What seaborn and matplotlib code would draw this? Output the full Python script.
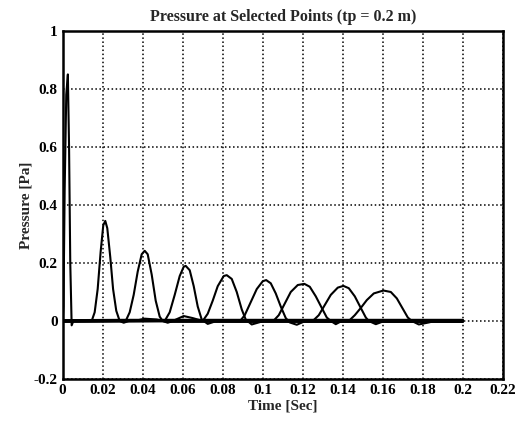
import numpy as np
import pandas as pd
import seaborn as sns
import matplotlib.pyplot as plt

# pressure time histories at the selected points
t1 = [0, 0.0004, 0.001, 0.0018, 0.0026, 0.0032, 0.0038, 0.0045, 0.0055, 0.03, 0.2]
p1 = [0, 0.05, 0.45, 0.78, 0.85, 0.6, 0.2, -0.015, 0.003, 0.004, 0.004]

t2 = [0, 0.0145, 0.016, 0.0175, 0.019, 0.0203, 0.0213, 0.0223, 0.0238, 0.0252, 0.0268, 0.0285, 0.0305,
      0.033, 0.036, 0.041, 0.047, 0.052, 0.2]
p2 = [0, 0, 0.03, 0.11, 0.24, 0.33, 0.345, 0.32, 0.22, 0.11, 0.035, 0, -0.006,
      0, 0, 0.008, 0.005, -0.003, -0.003]

t3 = [0, 0.0315, 0.0335, 0.0355, 0.0375, 0.0395, 0.041, 0.0425, 0.0445, 0.0465, 0.0485, 0.050, 0.0525,
      0.055, 0.0605, 0.065, 0.069, 0.2]
p3 = [-0.002, 0, 0.03, 0.09, 0.17, 0.23, 0.242, 0.23, 0.16, 0.07, 0.015, 0, -0.006,
      0, 0.017, 0.01, 0.002, 0.002]

t4 = [0, 0.051, 0.0535, 0.056, 0.0585, 0.0605, 0.0615, 0.0635, 0.0655, 0.0675, 0.0695, 0.0725, 0.076, 0.2]
p4 = [0.002, 0, 0.03, 0.09, 0.155, 0.187, 0.19, 0.175, 0.12, 0.05, 0.005, -0.01, -0.002, -0.002]

t5 = [0, 0.070, 0.0725, 0.075, 0.0775, 0.0805, 0.082, 0.0845, 0.087, 0.0895, 0.0915, 0.0945, 0.098, 0.101, 0.2]
p5 = [-0.003, 0, 0.025, 0.07, 0.12, 0.155, 0.158, 0.145, 0.1, 0.04, 0.005, -0.012, -0.005, 0.001, 0.001]

t6 = [0, 0.0887, 0.091, 0.094, 0.097, 0.1, 0.1017, 0.104, 0.1065, 0.109, 0.1115, 0.1135, 0.117, 0.121, 0.2]
p6 = [0.003, 0, 0.02, 0.065, 0.11, 0.137, 0.141, 0.13, 0.095, 0.05, 0.01, -0.005, -0.013, -0.001, -0.001]

t7 = [0, 0.1053, 0.108, 0.111, 0.114, 0.1175, 0.1208, 0.1235, 0.1265, 0.1295, 0.132, 0.134, 0.1365, 0.14, 0.2]
p7 = [-0.001, 0, 0.02, 0.06, 0.1, 0.124, 0.128, 0.118, 0.085, 0.045, 0.012, 0, -0.011, 0.002, 0.002]

t8 = [0, 0.125, 0.128, 0.131, 0.134, 0.1375, 0.1403, 0.143, 0.146, 0.149, 0.1515, 0.153, 0.1565, 0.16, 0.2]
p8 = [0.001, 0, 0.02, 0.055, 0.09, 0.115, 0.121, 0.113, 0.085, 0.045, 0.012, 0, -0.011, -0.002, -0.002]

t9 = [0, 0.143, 0.146, 0.149, 0.152, 0.1555, 0.1603, 0.164, 0.167, 0.17, 0.1725, 0.1745, 0.178, 0.183, 0.186, 0.2]
p9 = [0, 0, 0.02, 0.045, 0.072, 0.095, 0.105, 0.1, 0.078, 0.042, 0.012, 0, -0.012, -0.005, 0, 0]

x_ticks = [0, 0.02, 0.04, 0.06, 0.08, 0.1, 0.12, 0.14, 0.16, 0.18, 0.2, 0.22]
x_labels = ['0', '0.02', '0.04', '0.06', '0.08', '0.1', '0.12', '0.14', '0.16', '0.18', '0.2', '0.22']
y_ticks = [-0.2, 0, 0.2, 0.4, 0.6, 0.8, 1]
y_labels = ['-0.2', '0', '0.2', '0.4', '0.6', '0.8', '1']

series = [(t1, p1), (t2, p2), (t3, p3), (t4, p4), (t5, p5), (t6, p6), (t7, p7), (t8, p8), (t9, p9)]
frames = []
for i, (t, p) in enumerate(series):
    frames.append(pd.DataFrame({'time': t, 'pressure': p, 'point': i + 1}))
data = pd.concat(frames, ignore_index=True)

sns.set_style('white')
plt.rcParams['font.family'] = ['Liberation Serif', 'DejaVu Serif']
plt.rcParams['font.weight'] = 'bold'

fig = plt.figure(figsize=(5.31, 4.23), dpi=100)
ax = fig.add_axes([0.118, 0.104, 0.829, 0.823])

sns.lineplot(data=data, x='time', y='pressure', units='point', estimator=None, sort=False,
             color='black', linewidth=1.5, ax=ax)

ax.set_xlim(0, 0.22)
ax.set_ylim(-0.2, 1)
ax.set_xticks(x_ticks)
ax.set_xticklabels(x_labels, fontsize=11, fontweight='bold')
ax.set_yticks(y_ticks)
ax.set_yticklabels(y_labels, fontsize=11, fontweight='bold')
ax.tick_params(direction='in', length=3, width=1, colors='black')
ax.grid(True, linestyle=':', color='black', linewidth=1.1)
for s in ax.spines.values():
    s.set_linewidth(1.8)
    s.set_color('black')

ax.set_title('Pressure at Selected Points (tp = 0.2 m)', fontsize=11.5, fontweight='bold', pad=7)
ax.set_xlabel('Time [Sec]', fontsize=11, fontweight='bold', labelpad=2)
ax.set_ylabel('Pressure [Pa]', fontsize=11, fontweight='bold', labelpad=1)

fig.savefig('out.png', dpi=100)
